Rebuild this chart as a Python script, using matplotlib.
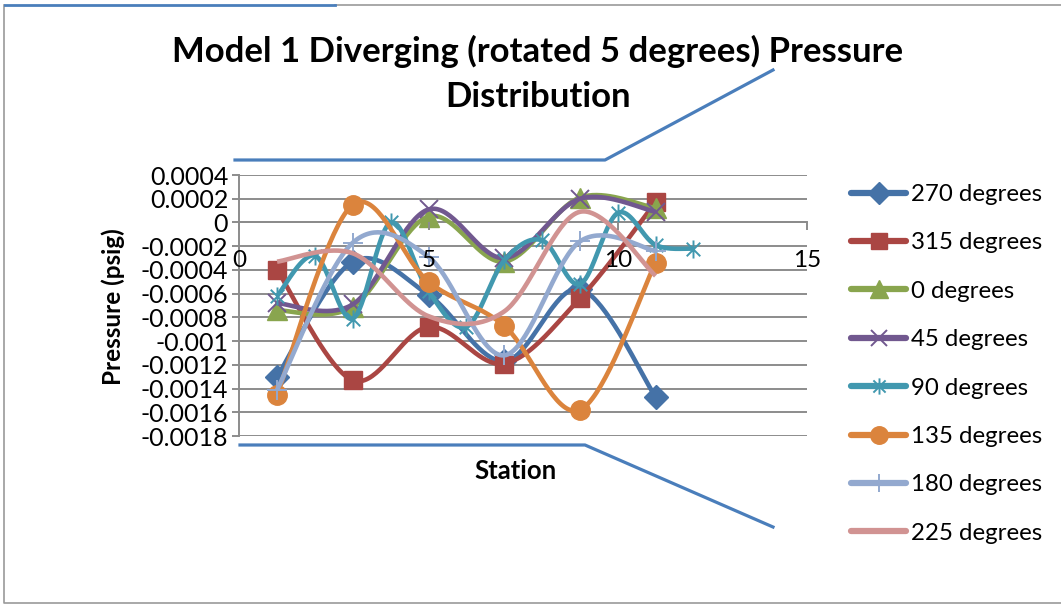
import numpy as np
import matplotlib
matplotlib.use("Agg")
import matplotlib.pyplot as plt
from matplotlib.lines import Line2D
from matplotlib.path import Path

plt.rcParams['font.family'] = ['Lato', 'DejaVu Sans']

# Station numbers and static pressure readings (psig) per probe angle
stations = [1, 3, 5, 7, 9, 11]
stations_90 = [1, 2, 3, 4, 5, 6, 7, 8, 9, 10, 11, 12]

p270 = [-0.00130, -0.00033, -0.00061, -0.00117, -0.00056, -0.00147]
p315 = [-0.00040, -0.00133, -0.00088, -0.00119, -0.00064, 0.00017]
p0 = [-0.00074, -0.00071, 0.00005, -0.00033, 0.00021, 0.00012]
p45 = [-0.00068, -0.00069, 0.00011, -0.00030, 0.00020, 0.00009]
p90 = [-0.00062, -0.00028, -0.00081, 0.00000, -0.00058, -0.00088,
       -0.00032, -0.00015, -0.00052, 0.00008, -0.00019, -0.00022]
p135 = [-0.00145, 0.00015, -0.00050, -0.00087, -0.00158, -0.00034]
p180 = [-0.00141, -0.00017, -0.00029, -0.00112, -0.00016, -0.00024]
p225 = [-0.00033, -0.00026, -0.00079, -0.00075, 0.00009, -0.00045]

series_names = ['270 degrees', '315 degrees', '0 degrees', '45 degrees',
                '90 degrees', '135 degrees', '180 degrees', '225 degrees']

x_ticks = [0, 5, 10, 15]
y_ticks = [0.0004, 0.0002, 0.0, -0.0002, -0.0004, -0.0006, -0.0008, -0.001,
           -0.0012, -0.0014, -0.0016, -0.0018]
y_tick_labels = ['0.0004', '0.0002', '0', '-0.0002', '-0.0004', '-0.0006',
                 '-0.0008', '-0.001', '-0.0012', '-0.0014', '-0.0016', '-0.0018']

# Asterisk marker: vertical bar plus a diagonal cross
asterisk = Path([(0, -1), (0, 1), (-0.75, -0.75), (0.75, 0.75),
                 (-0.75, 0.75), (0.75, -0.75)],
                [Path.MOVETO, Path.LINETO, Path.MOVETO, Path.LINETO,
                 Path.MOVETO, Path.LINETO])

styles = [
    dict(color='#4572A7', marker='D', ms=12),
    dict(color='#AA4643', marker='s', ms=13),
    dict(color='#89A54E', marker='^', ms=14),
    dict(color='#71588F', marker='x', ms=13, mew=1.4),
    dict(color='#4198AF', marker=asterisk, ms=13, mew=1.4),
    dict(color='#DB843D', marker='o', ms=14),
    dict(color='#93A9CF', marker='+', ms=15, mew=1.4),
    dict(color='#D19392', marker=None, ms=0),
]


def smooth(xs, ys, n=40):
    """Catmull-Rom style cubic Bezier through the points."""
    pts = np.column_stack([np.asarray(xs, float), np.asarray(ys, float)])
    ext = np.vstack([pts[0], pts, pts[-1]])
    t = np.linspace(0, 1, n)[:, None]
    out = []
    for i in range(1, len(ext) - 2):
        p0, p1, p2, p3 = ext[i - 1], ext[i], ext[i + 1], ext[i + 2]
        c1 = p1 + (p2 - p0) / 6.0
        c2 = p2 - (p3 - p1) / 6.0
        seg = ((1 - t) ** 3) * p1 + 3 * ((1 - t) ** 2) * t * c1 \
            + 3 * (1 - t) * t ** 2 * c2 + t ** 3 * p2
        out.append(seg if i == 1 else seg[1:])
    curve = np.vstack(out)
    return curve[:, 0], curve[:, 1]


fig = plt.figure(figsize=(10.61, 6.05), dpi=100)
ax = fig.add_axes([0.2255, 0.2793, 0.5351, 0.4314])

grid_color = '#8c8c8c'
for yv in y_ticks:
    ax.axhline(yv, color=grid_color, lw=1.4, zorder=1)

all_x = [stations] * 4 + [stations_90] + [stations] * 3
all_y = [p270, p315, p0, p45, p90, p135, p180, p225]

handles = []
for k, (xs, ys, name, st) in enumerate(zip(all_x, all_y, series_names, styles)):
    sx, sy = smooth(xs, ys)
    z = 3 + k
    ax.plot(sx, sy, color=st['color'], lw=3.3, solid_capstyle='butt', zorder=z)
    if st['marker'] is not None:
        ax.plot(xs, ys, linestyle='none', marker=st['marker'], ms=st['ms'],
                color=st['color'], mec=st['color'], mew=st.get('mew', 1.0),
                zorder=z + 0.5)
    handles.append(Line2D([0], [0], color=st['color'], lw=4.5,
                          solid_capstyle='round',
                          marker=st['marker'], ms=st['ms'] * 0.9,
                          mec=st['color'], mew=st.get('mew', 1.0)))

ax.set_xlim(0, 15)
ax.set_ylim(-0.0018, 0.0004)

for side in ['top', 'right']:
    ax.spines[side].set_visible(False)
ax.spines['bottom'].set_position(('data', 0))
ax.spines['bottom'].set_color(grid_color)
ax.spines['bottom'].set_linewidth(1.4)
ax.spines['bottom'].set_zorder(2)
ax.spines['left'].set_color(grid_color)
ax.spines['left'].set_linewidth(1.4)
# category labels on the zero line sit above the plotted curves
ax.xaxis.set_zorder(20)

ax.set_xticks(x_ticks)
ax.set_xticklabels([str(v) for v in x_ticks])
ax.set_yticks(y_ticks)
ax.set_yticklabels(y_tick_labels)
ax.tick_params(axis='x', direction='out', length=6, width=1.4, color=grid_color,
               pad=14, labelsize=17.5)
ax.tick_params(axis='y', direction='out', length=5, width=1.4, color=grid_color,
               pad=3, labelsize=18)

fig.text(113 / 1061, 1 - 307 / 605, 'Pressure (psig)', rotation=90,
         ha='center', va='center', fontsize=17.5, fontweight='bold')
fig.text(516 / 1061, 1 - 471 / 605, 'Station', ha='center', va='center',
         fontsize=18.5, fontweight='bold')
fig.text(538 / 1061, 1 - 74 / 605,
         'Model 1 Diverging (rotated 5 degrees) Pressure\nDistribution',
         ha='center', va='center', fontsize=25, fontweight='bold',
         linespacing=1.5)

fig.legend(handles, series_names, loc='upper left',
           bbox_to_anchor=(851 / 1061, 1 - 184 / 605), frameon=False,
           fontsize=17.3, handlelength=2.3, handletextpad=0.2,
           labelspacing=1.14, borderpad=0, borderaxespad=0)

# Callout connector lines and chart frame
blue = '#4a7ebb'
fig.add_artist(Line2D([235 / 1061, 605 / 1061, 773 / 1061],
                      [1 - 160 / 605, 1 - 160 / 605, 1 - 70 / 605],
                      transform=fig.transFigure, color=blue, lw=2.3))
fig.add_artist(Line2D([240 / 1061, 585 / 1061, 773 / 1061],
                      [1 - 445 / 605, 1 - 445 / 605, 1 - 527 / 605],
                      transform=fig.transFigure, color=blue, lw=2.3))
frame = '#9a9a9a'
fig.add_artist(Line2D([335 / 1061, 1.0], [1 - 5 / 605, 1 - 5 / 605],
                      transform=fig.transFigure, color=frame, lw=1.2))
fig.add_artist(Line2D([4 / 1061, 4 / 1061, 1.0],
                      [1 - 5 / 605, 1 - 603 / 605, 1 - 603 / 605],
                      transform=fig.transFigure, color=frame, lw=1.2))
fig.add_artist(Line2D([5 / 1061, 335 / 1061], [1 - 5 / 605, 1 - 5 / 605],
                      transform=fig.transFigure, color=blue, lw=2.0))

fig.savefig('out.png', dpi=100)
